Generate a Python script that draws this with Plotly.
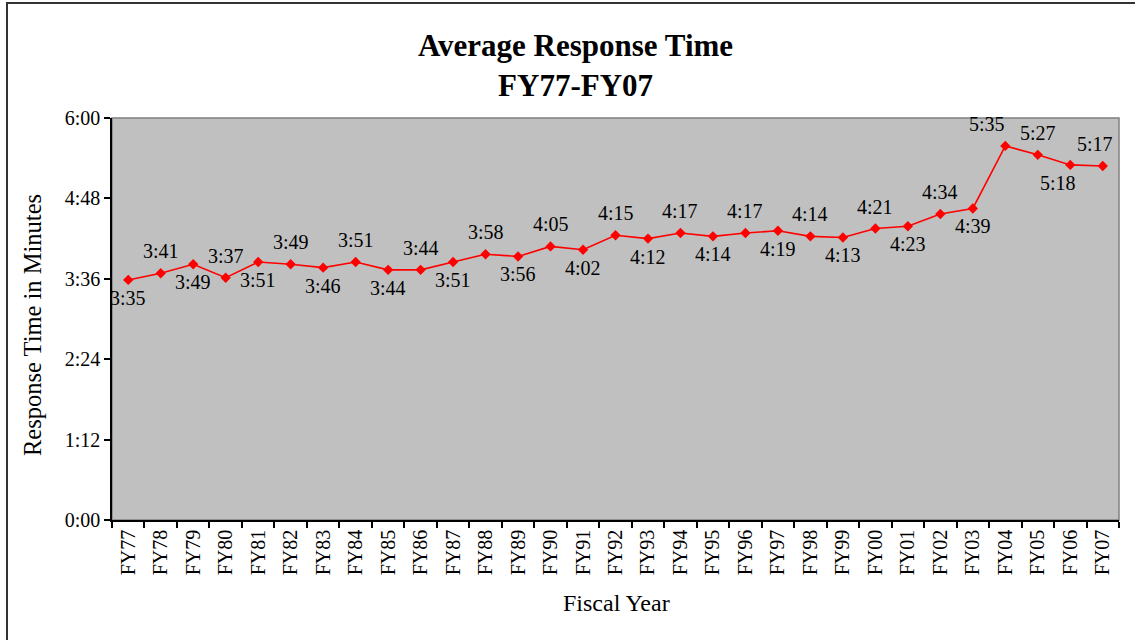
import plotly.graph_objects as go

fiscal_years = ["FY77", "FY78", "FY79", "FY80", "FY81", "FY82", "FY83", "FY84",
                "FY85", "FY86", "FY87", "FY88", "FY89", "FY90", "FY91", "FY92",
                "FY93", "FY94", "FY95", "FY96", "FY97", "FY98", "FY99", "FY00",
                "FY01", "FY02", "FY03", "FY04", "FY05", "FY06", "FY07"]
response_times = ["3:35", "3:41", "3:49", "3:37", "3:51", "3:49", "3:46", "3:51",
                  "3:44", "3:44", "3:51", "3:58", "3:56", "4:05", "4:02", "4:15",
                  "4:12", "4:17", "4:14", "4:17", "4:19", "4:14", "4:13", "4:21",
                  "4:23", "4:34", "4:39", "5:35", "5:27", "5:18", "5:17"]
label_side = ["below", "above", "below", "above", "below", "above", "below", "above",
              "below", "above", "below", "above", "below", "above", "below", "above",
              "below", "above", "below", "above", "below", "above", "below", "above",
              "below", "above", "below", "above", "above", "below", "above"]
y_tick_vals = [0, 1.2, 2.4, 3.6, 4.8, 6.0]
y_tick_text = ["0:00", "1:12", "2:24", "3:36", "4:48", "6:00"]


def to_minutes(t):
    m, s = t.split(":")
    return int(m) + int(s) / 60.0


minutes = [to_minutes(t) for t in response_times]

FONT = "Liberation Serif, Times New Roman, serif"

fig = go.Figure()
fig.add_trace(go.Scatter(
    x=fiscal_years, y=minutes, mode="lines+markers",
    line=dict(color="#FF0000", width=1.6),
    marker=dict(symbol="diamond", size=8, color="#FF0000"),
    hoverinfo="skip", showlegend=False,
))

x_nudge = {"FY04": -18, "FY06": -12, "FY07": -8}
annotations = []
for fy, val, txt, side in zip(fiscal_years, minutes, response_times, label_side):
    annotations.append(dict(
        x=fy, y=val, xref="x", yref="y", text=txt, showarrow=False,
        yshift=22 if side == "above" else -18, xshift=x_nudge.get(fy, 0),
        font=dict(family=FONT, size=20, color="black"),
    ))

# title
annotations.append(dict(
    x=(575 - 112) / 1007, y=(520 - 66) / 402, xref="paper", yref="paper",
    text="<b>Average Response Time</b><br><b>FY77-FY07</b>", showarrow=False,
    xanchor="center", yanchor="middle",
    font=dict(family=FONT, size=31, color="black"),
))
# axis titles
annotations.append(dict(
    x=(616 - 112) / 1007, y=(520 - 603) / 402, xref="paper", yref="paper",
    text="Fiscal Year", showarrow=False, xanchor="center", yanchor="middle",
    font=dict(family=FONT, size=24, color="black"),
))
annotations.append(dict(
    x=(32 - 112) / 1007, y=(520 - 325) / 402, xref="paper", yref="paper",
    text="Response Time in Minutes", showarrow=False, textangle=-90,
    xanchor="center", yanchor="middle",
    font=dict(family=FONT, size=24.5, color="black"),
))

shapes = [
    # plot-area border (gray top/right)
    dict(type="rect", xref="paper", yref="paper", x0=0, x1=1, y0=0, y1=1,
         line=dict(color="#808080", width=1.5), layer="below"),
    # outer chart frame
    dict(type="rect", xref="paper", yref="paper",
         x0=(7 - 112) / 1007, x1=(1145 - 112) / 1007,
         y0=(520 - 650) / 402, y1=(520 - 3) / 402,
         line=dict(color="#333333", width=2), layer="below"),
]

fig.update_layout(
    width=1135, height=640,
    margin=dict(l=112, r=16, t=118, b=120),
    paper_bgcolor="white", plot_bgcolor="#C0C0C0",
    font=dict(family=FONT, size=20, color="black"),
    annotations=annotations, shapes=shapes,
    xaxis=dict(
        type="category", categoryorder="array", categoryarray=fiscal_years,
        range=[-0.5, len(fiscal_years) - 0.5],
        tickson="boundaries", ticks="outside", ticklen=6, tickwidth=1.5, tickcolor="black",
        tickangle=-90, tickfont=dict(family=FONT, size=20, color="black"),
        showline=True, linecolor="black", linewidth=1.5,
        showgrid=False, zeroline=False, fixedrange=True,
    ),
    yaxis=dict(
        range=[0, 6], tickvals=y_tick_vals, ticktext=y_tick_text,
        ticks="outside", ticklen=6, tickwidth=1.5, tickcolor="black",
        tickfont=dict(family=FONT, size=20, color="black"),
        showline=True, linecolor="black", linewidth=1.5,
        showgrid=False, zeroline=False, fixedrange=True,
    ),
)

fig.write_html("out.html", config={"displayModeBar": False},
               post_script="document.body.style.margin='0';")
